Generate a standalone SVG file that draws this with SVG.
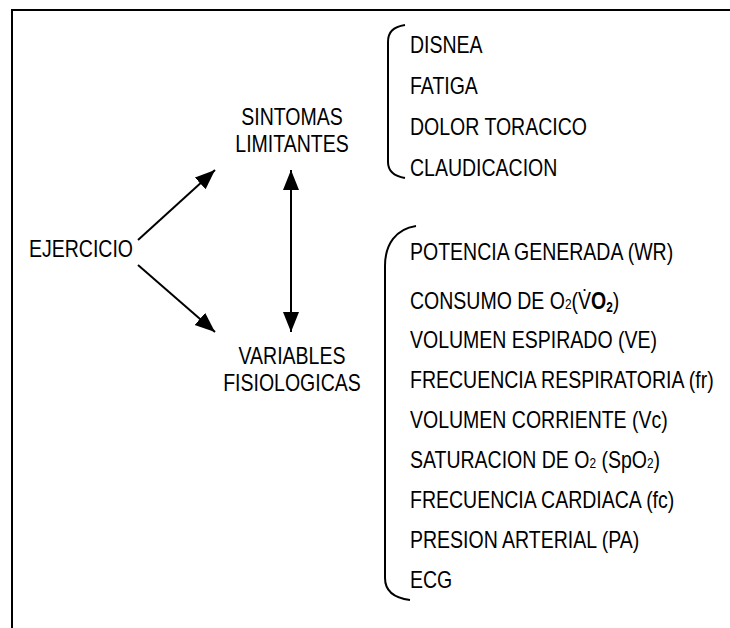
<svg xmlns="http://www.w3.org/2000/svg" width="730" height="628" viewBox="0 0 730 628">
<style>
  text { font-family: "Liberation Sans", Arial, sans-serif; font-size: 23px; fill: #000; }
  .c { text-anchor: middle; }
  .sub { font-size: 14px; }
  .conn line { stroke: #000; stroke-width: 2; fill: none; }
  .brace { stroke: #000; stroke-width: 2; fill: none; }
</style>
<defs>
  <marker id="ah" markerUnits="userSpaceOnUse" markerWidth="22" markerHeight="18" refX="20" refY="8" orient="auto-start-reverse" viewBox="0 0 22 18">
    <path d="M0,0 L20,8 L0,16 z" fill="#000"/>
  </marker>
</defs>
<rect width="730" height="628" fill="#fff"/>
<rect x="12" y="10" width="740" height="640" fill="none" stroke="#000" stroke-width="2"/>

<g id="ejercicio" transform="translate(29,257) scale(0.848,1)"><text x="0" y="0">EJERCICIO</text></g>
<g id="sintomas" transform="translate(292,0) scale(0.848,1)">
  <text class="c" x="0" y="125">SINTOMAS</text>
  <text class="c" x="0" y="152">LIMITANTES</text>
</g>
<g id="variables" transform="translate(292,0) scale(0.848,1)">
  <text class="c" x="0" y="364">VARIABLES</text>
  <text class="c" x="0" y="391">FISIOLOGICAS</text>
</g>

<g id="sintomas-lista">
  <path class="brace" d="M405,25 C393,27 388,32 388,42 L388,162 C388,171 393,176 405,178"/>
  <g transform="translate(410,0) scale(0.848,1)">
    <text x="0" y="53">DISNEA</text>
    <text x="0" y="94">FATIGA</text>
    <text x="0" y="135">DOLOR TORACICO</text>
    <text x="0" y="176">CLAUDICACION</text>
  </g>
</g>

<g id="variables-lista">
  <path class="brace" d="M416,226 C396,229 385,244 385,266 L385,578 C385,591 394,598 410,600"/>
  <g transform="translate(410,0) scale(0.848,1)">
    <text x="0" y="260">POTENCIA GENERADA (WR)</text>
    <text x="0" y="309">CONSUMO DE O<tspan class="sub">2</tspan>(V&#x307;<tspan font-weight="bold">O</tspan><tspan class="sub" font-weight="bold" dy="3">2</tspan><tspan dy="-3">)</tspan></text>
    <text x="0" y="348">VOLUMEN ESPIRADO (VE)</text>
    <text x="0" y="388">FRECUENCIA RESPIRATORIA (fr)</text>
    <text x="0" y="428">VOLUMEN CORRIENTE (Vc)</text>
    <text x="0" y="468">SATURACION DE O<tspan class="sub">2</tspan> (SpO<tspan class="sub">2</tspan>)</text>
    <text x="0" y="508">FRECUENCIA CARDIACA (fc)</text>
    <text x="0" y="548">PRESION ARTERIAL (PA)</text>
    <text x="0" y="588">ECG</text>
  </g>
</g>

<g id="connectors" class="conn">
  <line x1="138" y1="240" x2="215" y2="170" marker-end="url(#ah)"/>
  <line x1="138" y1="265" x2="215" y2="332" marker-end="url(#ah)"/>
  <line x1="291" y1="170" x2="291" y2="332" marker-start="url(#ah)" marker-end="url(#ah)"/>
</g>
</svg>
